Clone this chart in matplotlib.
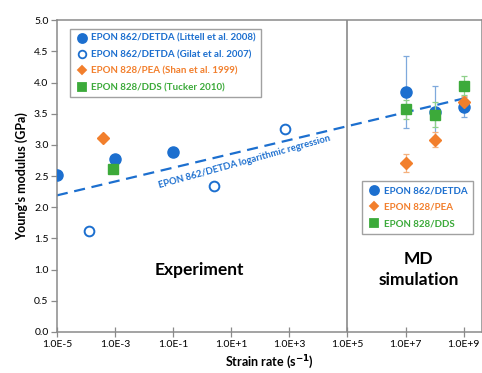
import numpy as np
import matplotlib.pyplot as plt
from matplotlib.lines import Line2D
from matplotlib.ticker import FixedLocator, NullLocator

plt.rcParams['font.family'] = ['Lato', 'DejaVu Sans']

# experiment data (strain rate 1/s, modulus GPa)
littell_x = [1e-5, 1e-3, 1e-1]
littell_y = [2.51, 2.77, 2.88]
gilat_x = [1.3e-4, 2.6, 7e2]
gilat_y = [1.62, 2.34, 3.25]
shan_x = [3.9e-4]
shan_y = [3.11]
tucker_x = [8.5e-4]
tucker_y = [2.61]

# MD simulation data
md_x = [1e7, 1e8, 1e9]
md_detda_y = [3.85, 3.53, 3.60]
md_detda_err = [0.58, 0.41, 0.16]
md_pea_y = [2.71, 3.08, 3.68]
md_pea_err = [0.14, 0.12, 0.10]
md_dds_y = [3.57, 3.48, 3.95]
md_dds_err = [0.15, 0.20, 0.15]

# logarithmic regression  E = a + b*log10(rate)
reg_a = 2.745
reg_b = 0.111
reg_range = [1e-5, 1e9]

blue = '#1c6fcf'
orange = '#f27f2c'
green = '#3caa3a'
grey = '#8a8a8a'

fig = plt.figure(figsize=(4.82, 3.73), dpi=100)
ax = fig.add_axes([0.118, 0.110, 0.882, 0.836])

rr = np.logspace(np.log10(reg_range[0]), np.log10(reg_range[1]), 50)
ax.plot(rr, reg_a + reg_b * np.log10(rr), ls=(0, (5, 3)), color=blue, lw=1.6, zorder=2)

ax.axvline(1e5, color=grey, lw=1.2, zorder=1)

ax.plot(littell_x, littell_y, 'o', color=blue, ms=8, ls='none', zorder=3)
ax.plot(gilat_x, gilat_y, 'o', mfc='white', mec=blue, mew=1.4, ms=7, ls='none', zorder=3)
ax.plot(shan_x, shan_y, 'D', color=orange, ms=6, ls='none', zorder=3)
ax.plot(tucker_x, tucker_y, 's', color=green, ms=7.5, ls='none', zorder=3)

ax.errorbar(md_x, md_detda_y, yerr=md_detda_err, fmt='o', color=blue, ms=8,
            ecolor='#7fa9dc', elinewidth=0.9, capsize=2, capthick=0.9, zorder=3)
ax.errorbar(md_x, md_pea_y, yerr=md_pea_err, fmt='D', color=orange, ms=6,
            ecolor='#f5b07d', elinewidth=0.9, capsize=2, capthick=0.9, zorder=3)
ax.errorbar(md_x, md_dds_y, yerr=md_dds_err, fmt='s', color=green, ms=7.5,
            ecolor='#8fd08a', elinewidth=0.9, capsize=2, capthick=0.9, zorder=4)

ax.set_xscale('log')
ax.set_xlim(1e-5, 10**9.63)
ax.set_ylim(0, 5)
xt = [1e-5, 1e-3, 1e-1, 1e1, 1e3, 1e5, 1e7, 1e9]
ax.xaxis.set_major_locator(FixedLocator(xt))
ax.xaxis.set_minor_locator(NullLocator())
ax.set_xticklabels(['1.0E-5', '1.0E-3', '1.0E-1', '1.0E+1', '1.0E+3', '1.0E+5', '1.0E+7', '1.0E+9'])
ax.set_yticks(np.arange(0, 5.01, 0.5))
ax.set_yticklabels(['%.1f' % v for v in np.arange(0, 5.01, 0.5)])
ax.tick_params(direction='inout', length=7, width=0.9, color=grey, labelsize=7.5, pad=2)
ax.tick_params(axis='y', direction='out', length=4)
for s in ax.spines.values():
    s.set_color(grey)
    s.set_linewidth(1.1)

ax.set_xlabel('Strain rate (s$^{\\mathbf{-1}}$)', fontsize=9, fontweight='bold', labelpad=3)
ax.set_ylabel("Young's modulus (GPa)", fontsize=9, fontweight='bold', labelpad=4)

ax.text(10**-0.08, 1.0, 'Experiment', fontsize=12.5, fontweight='bold', ha='center', va='center')
ax.text(10**7.45, 1.0, 'MD\nsimulation', fontsize=12.5, fontweight='bold', ha='center', va='center',
        linespacing=1.4)
ax.text(10**1.45, 2.72, 'EPON 862/DETDA logarithmic regression', fontsize=6.8, fontweight='bold',
        color=blue, rotation=15.5, ha='center', va='center', rotation_mode='anchor')


def mk(marker, ms, face, edge, label):
    return Line2D([], [], marker=marker, ls='none', ms=ms, mfc=face, mec=edge, mew=1.3, label=label)


hand1 = [mk('o', 6.5, blue, blue, 'EPON 862/DETDA (Littell et al. 2008)'),
         mk('o', 5.5, 'white', blue, 'EPON 862/DETDA (Gilat et al. 2007)'),
         mk('D', 4.5, orange, orange, 'EPON 828/PEA (Shan et al. 1999)'),
         mk('s', 5.5, green, green, 'EPON 828/DDS (Tucker 2010)')]
hand2 = [mk('o', 6.5, blue, blue, 'EPON 862/DETDA'),
         mk('D', 4.5, orange, orange, 'EPON 828/PEA'),
         mk('s', 5.5, green, green, 'EPON 828/DDS')]
cols1 = [blue, blue, orange, green]
cols2 = [blue, orange, green]

leg1 = ax.legend(handles=hand1, loc='upper left', bbox_to_anchor=(0.032, 0.973),
                 frameon=True, fancybox=False, edgecolor=grey,
                 prop={'weight': 'bold', 'size': 7}, handletextpad=0.4, handlelength=1.2,
                 labelspacing=0.75, borderpad=0.55, borderaxespad=0)
leg1.get_frame().set_linewidth(1.0)
for t, c in zip(leg1.get_texts(), cols1):
    t.set_color(c)
ax.add_artist(leg1)
leg2 = ax.legend(handles=hand2, loc='upper left', bbox_to_anchor=(0.718, 0.485),
                 frameon=True, fancybox=False, edgecolor=grey,
                 prop={'weight': 'bold', 'size': 7}, handletextpad=0.4, handlelength=1.2,
                 labelspacing=0.75, borderpad=0.6, borderaxespad=0)
leg2.get_frame().set_linewidth(1.0)
for t, c in zip(leg2.get_texts(), cols2):
    t.set_color(c)

fig.savefig('out.png', dpi=100)
